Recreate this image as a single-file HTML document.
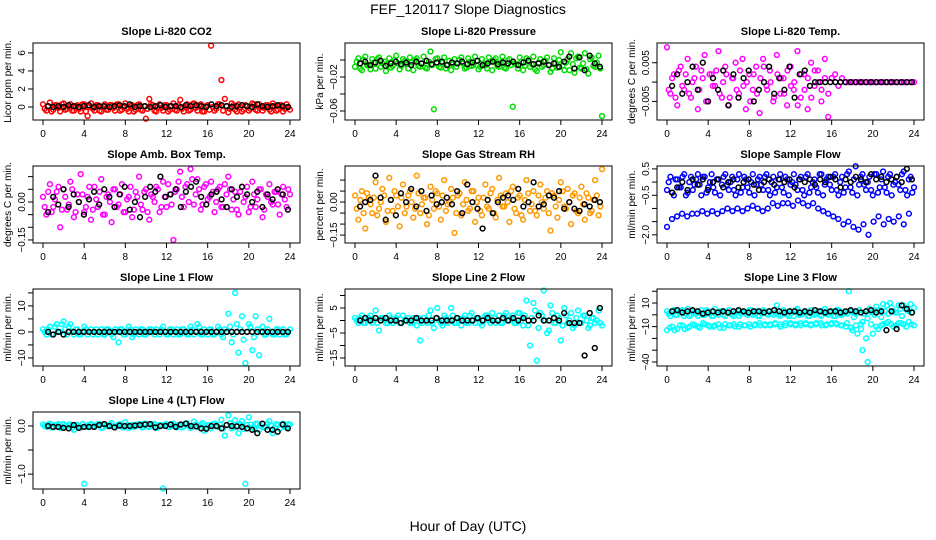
<!DOCTYPE html>
<html><head><meta charset="utf-8"><title>FEF_120117 Slope Diagnostics</title>
<style>
html,body{margin:0;padding:0;background:#fff;}
svg{display:block;font-family:"Liberation Sans",Arial,sans-serif;}
</style></head>
<body>
<svg id="chart" width="936" height="540" viewBox="0 0 936 540">
<text x="468" y="14" font-size="14" text-anchor="middle">FEF_120117  Slope Diagnostics</text>
<text x="468" y="531" font-size="14" text-anchor="middle">Hour of Day (UTC)</text>
</svg>
<script>
// ---- data (hour of day 0..24; values evenly spaced between x0 and x1) ----
const xTicks=[0,4,8,12,16,20,24];
const co2Red=[0.3,-0.4,0.5,-0.3,0.2,-0.5,0.4,-0.2,0.3,-0.4,0.2,-0.5,0.3,-1.0,0.4,-0.4,0.2,-0.5,0.3,-0.3,0.2,-0.4,0.3,-0.3,0.4,-0.5,0.2,-0.3,0.3,-0.4,-1.3,0.9,0.2,-0.5,0.3,-0.4,0.2,-0.3,0.4,-0.4,0.8,-0.5,0.3,-0.3,0.4,-0.4,0.3,-0.5,0.2,6.8,-0.4,0.3,3.0,0.9,-0.6,0.4,-0.3,0.3,-0.5,0.2,-0.4,0.4,-0.3,0.3,-0.4,0.2,-0.3,0.4,-0.4,0.2,-0.5,0.3,-0.3];
const co2Red2=[-0.2,0.1,-0.5,0.2,-0.1,0.3,-0.3,0.0,-0.4,0.1,-0.2,0.3,-0.5,0.0,-0.2,0.2,-0.4,0.1,-0.3,0.2,-0.1,0.3,-0.4,0.0,-0.2,0.1,-0.5,0.2,-0.3,0.1,-0.2,0.3,-0.4,0.0,-0.1,0.2,-0.5,0.1,-0.3,0.2,-0.2,0.0,-0.4,0.3,-0.1,0.2,-0.5,0.1,-0.3,0.0,-0.2,0.3,-0.4,0.1,-0.2,0.2,-0.5,0.0,-0.3,0.1,-0.2,0.3,-0.4,0.0,-0.1,0.2,-0.5,0.1,-0.3,0.2,-0.2,0.0];
const co2Black=[0.1,0.0,0.1,0.0,0.2,0.1,0.0,0.1,0.2,0.0,0.1,0.1,0.0,0.1,0.2,0.1,0.3,0.0,0.1,0.1,0.0,0.1,0.2,0.0,0.1,0.1,0.0,0.2,0.1,0.2,0.1,0.0,0.3,0.1,0.2,0.1,0.0,0.1,0.2,0.1,0.0,0.3,0.1,0.0,0.1,0.2,0.1,0.0];
const presGreen=[-0.008,0.002,-0.012,0.004,-0.006,0.001,-0.010,0.003,-0.004,-0.013,0.002,-0.007,0.005,-0.011,0.001,-0.005,0.003,-0.012,0.002,-0.008,0.004,-0.010,0.010,-0.058,0.002,-0.009,0.003,-0.006,-0.012,0.001,-0.004,0.003,-0.010,0.002,-0.007,0.004,-0.011,0.001,-0.006,0.003,-0.012,0.002,-0.008,0.004,-0.010,0.001,-0.055,-0.005,0.003,-0.012,0.002,-0.008,0.004,-0.013,0.001,-0.006,0.003,-0.014,0.002,-0.009,0.009,-0.012,0.001,0.008,-0.015,0.004,-0.010,0.008,-0.016,0.003,-0.008,0.005,-0.066];
const presGreen2=[-0.002,-0.010,0.000,-0.006,-0.011,-0.003,0.001,-0.008,-0.002,-0.005,-0.009,0.000,-0.004,-0.007,-0.001,-0.010,-0.003,0.000,-0.007,-0.004,-0.009,-0.002,-0.006,0.001,-0.008,-0.003,-0.010,-0.001,-0.005,-0.008,0.000,-0.004,-0.009,-0.002,-0.006,-0.001,-0.008,-0.004,-0.010,-0.002,0.000,-0.007,-0.003,-0.009,-0.001,-0.006,-0.004,-0.010,-0.002,-0.007,0.000,-0.005,-0.011,-0.003,-0.008,-0.001,-0.006,-0.010,-0.004,0.000,-0.007,-0.003,-0.012,-0.005,0.002,-0.009,-0.004,-0.011,0.001,-0.007,-0.003,-0.010];
const presBlack=[-0.004,-0.002,-0.006,-0.003,-0.001,-0.007,-0.004,-0.002,-0.005,-0.003,-0.006,-0.002,-0.004,-0.001,-0.005,-0.003,-0.002,-0.006,-0.003,-0.004,-0.002,-0.005,-0.003,-0.001,-0.006,-0.004,-0.002,-0.005,-0.003,-0.004,-0.002,-0.006,-0.003,-0.001,-0.005,-0.004,-0.002,-0.006,-0.004,-0.008,-0.002,0.004,-0.010,0.003,-0.012,0.005,-0.004,-0.008];
const tempMag=[0.009,-0.003,0.002,-0.006,0.004,-0.002,0.006,-0.004,0.001,-0.007,0.003,0.007,-0.005,0.002,-0.001,0.008,-0.004,0.004,-0.006,0.001,0.005,-0.003,0.006,-0.007,0.002,-0.002,0.004,-0.008,0.006,-0.001,0.003,-0.005,0.007,-0.003,0.001,-0.006,0.004,-0.002,0.008,-0.004,0.002,-0.007,0.005,-0.001,0.003,-0.005,0.006,-0.009,0.001,0.002,-0.001,0.001,0,0,0,0,0,0,0,0,0,0,0,0,0,0,0,0,0,0,0,0,0];
const tempMag2=[-0.002,0.001,-0.004,0.003,-0.001,0.002,-0.003,0.000,0.004,-0.002,0.001,-0.005,0.002,-0.001,0.003,-0.003,0.000,0.002,-0.004,0.001,-0.002,0.003,-0.001,0.000,-0.005,0.002,-0.003,0.001,0.004,-0.002,0.000,-0.004,0.002,0.001,-0.003,0.003,-0.001,0.000,-0.006,0.002,-0.002,0.001,-0.004,0.003,0.000,-0.002,0.001,-0.003,0.001];
const tempBlack=[-0.001,0.002,-0.003,0.000,0.004,-0.002,0.005,-0.005,0.001,-0.002,0.003,-0.006,0.002,-0.004,0.001,0.003,-0.005,-0.002,0.000,0.004,-0.003,0.001,-0.002,0.004,-0.004,0.002,0.003,-0.001,0.000,0,0,0,0,0,0,0,0,0,0,0,0,0,0,0,0,0,0,0];
const ambMag=[0.02,-0.05,0.07,-0.02,0.04,-0.10,0.05,-0.03,0.08,-0.06,0.03,0.11,-0.04,0.02,-0.07,0.06,-0.02,0.09,-0.05,0.03,-0.08,0.05,-0.01,0.07,-0.04,0.02,-0.06,0.04,0.10,-0.03,0.05,-0.07,0.02,0.06,-0.04,0.08,-0.02,0.03,-0.15,0.05,0.12,-0.02,0.07,0.13,-0.01,0.09,-0.03,0.06,0.01,0.08,-0.04,0.05,-0.02,0.07,0.10,-0.03,0.04,-0.05,0.06,0.02,-0.04,0.08,-0.02,0.05,-0.06,0.03,0.07,-0.01,0.04,-0.05,0.06,-0.02,0.03];
const ambMag2=[-0.02,0.04,-0.04,0.01,0.06,-0.03,0.02,-0.01,0.05,-0.04,0.00,0.03,-0.02,0.06,-0.03,0.01,0.04,-0.05,0.02,0.00,0.05,-0.02,0.03,-0.04,0.01,0.06,-0.03,0.02,-0.01,0.04,-0.04,0.03,0.00,0.05,-0.02,0.02,0.07,-0.01,0.04,0.08,0.02,0.06,0.00,0.09,0.03,0.05,-0.01,0.07,0.02,0.04,0.00,0.06,-0.02,0.03,0.05,0.01,-0.03,0.04,0.00,0.06,-0.02,0.03,0.01,0.05,-0.03,0.02,0.00,0.04,-0.01,0.03,0.01,0.05];
const ambBlack=[-0.04,0.02,-0.01,0.05,-0.02,0.03,0.00,-0.05,0.01,0.04,-0.01,0.05,0.02,-0.02,0.03,0.06,-0.03,0.00,-0.06,0.02,0.06,0.04,0.10,0.02,0.03,0.05,-0.02,0.04,0.06,0.08,0.02,-0.01,0.03,0.04,0.01,-0.02,0.05,0.02,0.06,0.03,0.00,0.04,-0.02,0.03,0.01,0.05,0.03,-0.03];
const rhOrange=[0.03,-0.08,0.05,-0.12,0.02,-0.05,0.09,-0.03,0.06,-0.09,0.11,-0.04,0.03,-0.11,0.08,-0.02,0.05,-0.07,0.12,-0.05,0.02,-0.10,0.07,-0.03,0.04,-0.08,0.10,-0.01,0.06,-0.14,0.03,-0.06,0.09,-0.04,0.05,-0.09,0.02,-0.06,0.08,-0.03,0.06,-0.07,0.11,-0.02,0.04,-0.09,0.07,-0.05,0.03,-0.08,0.10,-0.04,0.05,-0.06,0.08,-0.03,0.05,-0.13,0.03,-0.07,0.09,-0.02,0.06,-0.10,0.04,-0.05,0.07,-0.08,0.02,-0.04,0.10,-0.06,0.15];
const rhOrange2=[-0.03,0.01,-0.05,0.04,-0.01,0.02,-0.06,0.00,0.03,-0.04,0.01,0.05,-0.02,0.02,-0.05,0.03,0.00,-0.03,0.04,-0.01,0.02,-0.06,0.01,0.05,-0.02,0.03,-0.04,0.00,0.02,-0.05,0.04,-0.01,0.01,-0.03,0.05,0.00,-0.04,0.02,-0.02,0.04,-0.05,0.01,0.03,-0.02,0.00,0.05,-0.03,0.02,-0.06,0.01,0.04,-0.01,-0.04,0.03,0.00,0.02,-0.05,0.04,-0.02,0.01,0.05,-0.03,0.00,0.03,-0.04,0.02,-0.01,0.04,-0.05,0.01,0.03,-0.02];
const rhBlack=[-0.02,0.00,0.01,0.12,0.02,-0.08,0.01,-0.06,0.04,0.00,0.06,-0.02,0.05,-0.04,0.03,-0.01,0.00,0.02,-0.01,0.05,-0.05,0.08,0.00,-0.03,-0.12,0.01,-0.05,0.00,0.02,0.03,0.01,0.06,-0.02,0.00,0.09,-0.02,-0.01,0.03,0.02,0.05,-0.03,0.00,-0.03,-0.04,-0.01,-0.02,0.01,0.00];
const flowBlueHi=[-0.3,0.2,-0.5,0.1,-0.2,0.3,-0.4,0.2,-0.1,0.3,-0.5,0.2,-0.2,0.3,-0.4,0.1,-0.1,0.3,-0.3,0.2,-0.5,0.3,-0.2,0.1,-0.4,0.3,-0.1,0.2,-0.3,0.3,-0.5,0.2,-0.2,0.3,-0.4,0.1,-0.1,0.3,-0.3,0.2,-0.5,0.3,-0.2,0.1,-0.4,0.3,-0.1,0.2,-0.3,0.3,-0.5,0.2,-0.2,0.4,-0.4,0.6,-0.1,0.3,-0.3,0.2,-0.5,0.3,-0.2,0.4,-0.4,0.3,-0.1,0.2,-0.3,0.4,-0.5,0.2,-0.2];
const flowBlueHi2=[0.0,-0.4,0.1,-0.2,0.2,-0.5,0.0,-0.3,0.1,-0.1,0.2,-0.4,0.0,-0.2,0.1,-0.5,0.2,-0.1,0.0,-0.3,0.1,-0.4,0.2,-0.2,0.0,-0.5,0.1,-0.1,0.2,-0.3,0.0,-0.4,0.1,-0.2,0.2,-0.5,0.0,-0.1,0.1,-0.3,0.2,-0.4,0.0,-0.2,0.3,-0.5,0.1,-0.1,0.2,-0.3,0.0,-0.4,0.3,-0.2,0.1,-0.5,0.2,-0.1,0.0,-0.3,0.3,-0.4,0.1,-0.2,0.2,-0.5,0.0,-0.1,0.3,-0.3,0.1,-0.4];
const flowBlueLo=[-1.7,-1.4,-1.3,-1.2,-1.3,-1.2,-1.2,-1.1,-1.2,-1.1,-1.2,-1.1,-1.0,-1.1,-1.0,-1.1,-1.0,-0.9,-1.0,-1.1,-1.0,-0.8,-0.9,-0.8,-0.8,-0.9,-0.7,-0.8,-0.9,-0.8,-1.0,-1.1,-1.2,-1.3,-1.4,-1.6,-1.5,-1.7,-1.8,-1.6,-2.0,-1.5,-1.3,-1.6,-1.4,-1.5,-1.3,-1.6,-1.2];
const flowBlack=[-0.4,-0.2,0.0,-0.3,0.1,-0.1,0.1,-0.3,0.0,0.1,-0.2,0.0,0.1,-0.2,0.0,0.1,-0.1,-0.3,0.0,0.1,-0.1,0.1,0.0,0.1,-0.2,0.1,0.0,0.1,-0.1,0.1,0.0,0.2,0.1,-0.2,0.1,0.0,0.2,0.1,0.0,0.3,0.1,0.2,0.0,0.1,0.2,0.0,0.5,0.1];
const line1Cyan=[1,-1,2,-1,3,0,4,-1,3,-1,1,-1,2,-1,1,0,-1,1,-1,1,-1,1,-4,1,-1,2,-2,1,-1,1,-1,1,0,1,-1,2,-1,1,-1,1,-1,1,-1,2,-1,3,-1,1,-1,1,-1,2,-1,1,7,-4,15,-8,6,-12,3,-7,6,-9,2,-1,5,-1,1,-1,1,-1,1];
const line1Cyan2=[0,1,-1,2,0,3,1,2,0,1,-1,0,1,0,-1,1,0,-1,1,0,-2,0,1,-1,0,1,-1,0,1,-1,0,1,-1,0,1,0,-1,1,0,-1,1,0,-1,1,0,2,-1,0,1,-1,0,1,-2,0,2,-1,3,1,-3,0,2,-2,1,0,-1,1,0,-1,1,0,-1,0];
const line1Black=[0,-1,0,-1,0,0,0,0,0,0,0,0,0,0,0,0,0,0,0,0,0,0,0,0,0,0,0,0,0,0,0,0,0,0,0,0,0,0,0,0,0,0,0,0,0,0,0,0];
const line2Cyan=[1,-1,2,-1,1,-1,4,-4,1,-1,2,-1,1,-1,2,0,-1,1,-2,-8,1,-1,4,-3,5,-1,2,-1,5,-1,1,-2,2,-1,3,-1,1,-2,2,0,3,-1,2,-1,3,0,2,-1,3,-2,8,-10,7,-16,3,12,-5,6,-1,2,-8,5,-1,3,-2,4,-1,2,-3,1,-1,4,-2];
const line2Cyan2=[0,1,-1,0,2,0,-1,1,0,-1,1,0,2,-1,0,1,-1,0,1,-1,0,2,-1,1,0,-2,1,0,2,-1,0,1,-1,2,0,1,-1,0,2,-1,1,0,-1,2,0,1,-1,3,0,2,-2,1,4,-3,2,0,-4,3,-1,1,-2,2,0,-3,1,-1,2,0,-2,1,0,-1];
const line2Black=[0,1,0,1,0,1,0,0,-1,0,0,1,0,0,0,1,0,0,0,1,0,0,0,1,0,1,0,0,1,0,1,0,1,0,0,2,0,0,1,0,3,-1,-1,-1,-14,3,-11,5];
const line3CyanHi=[3,-1,4,0,3,-1,5,0,2,-1,4,0,3,-1,5,0,3,-1,4,0,2,-1,3,1,4,0,3,-1,4,1,3,0,8,-1,4,0,3,-1,5,0,2,-1,4,0,3,-1,5,0,3,-1,4,0,2,20,3,1,4,-6,3,5,2,7,4,9,8,10,3,2,5,8,4,9,6];
const line3CyanHi2=[1,3,0,2,4,1,-1,3,1,2,0,4,1,-1,2,3,0,2,1,-1,3,1,2,0,4,1,-1,2,3,0,1,2,0,3,1,-1,2,4,0,1,3,-1,2,1,0,3,1,2,-1,4,0,2,1,3,-2,2,-8,1,-3,2,0,4,-2,3,1,6,2,8,-1,5,3,2];
const line3CyanLo=[-13,-10,-12,-9,-11,-8,-10,-7,-9,-10,-8,-11,-9,-8,-10,-9,-8,-9,-7,-9,-8,-7,-8,-9,-7,-8,-9,-7,-8,-7,-9,-8,-7,-8,-9,-7,-13,-16,-30,-40,-16,-12,-8,-6,-10,-7,-8,-6,-9];
const line3CyanLo2=[-11,-13,-9,-12,-10,-9,-11,-8,-10,-9,-11,-8,-9,-10,-8,-9,-10,-8,-9,-8,-9,-8,-10,-7,-8,-9,-7,-8,-9,-8,-7,-9,-8,-7,-9,-10,-11,-9,-12,-20,-8,-10,-9,-7,-8,-9,-7,-10,-8];
const line3Black=[3,4,2,3,4,3,1,2,3,2,3,2,3,4,3,2,3,3,2,3,4,3,2,3,3,2,3,2,4,3,2,3,3,2,3,4,3,2,3,4,2,3,-13,3,-12,8,5,2];
const line4Cyan=[0.03,-0.02,0.05,-0.03,0.02,-0.04,0.04,-0.01,0.03,-0.08,0.02,-0.03,-1.2,0.01,0.04,-0.02,0.03,-0.04,0.02,-0.01,0.06,-0.03,0.03,-0.02,0.08,-0.04,0.02,-0.01,0.04,-0.03,0.05,-0.02,0.03,-0.04,0.02,-1.3,0.04,-0.02,0.05,-0.03,0.03,-0.01,0.06,-0.04,0.09,-0.02,0.03,-0.10,0.02,-0.05,0.05,-0.02,0.13,-0.20,0.22,-0.05,0.12,-0.15,0.10,-1.2,0.18,-0.03,0.05,-0.08,0.04,-0.02,0.10,-0.15,0.04,-0.06,0.05,-0.03,0.03];
const line4Cyan2=[0.00,0.03,-0.03,0.02,0.04,-0.02,0.01,0.03,-0.04,0.02,0.00,0.04,-0.02,0.03,-0.01,0.02,0.04,-0.03,0.01,0.03,-0.02,0.00,0.04,-0.03,0.02,0.01,-0.02,0.03,0.00,0.05,-0.01,0.02,0.04,-0.03,0.01,0.03,-0.02,0.04,0.00,0.02,-0.03,0.05,0.01,-0.02,0.03,0.00,0.06,-0.04,0.02,0.04,-0.01,0.03,-0.05,0.02,0.06,-0.03,0.01,0.04,-0.06,0.02,0.03,-0.05,0.04,0.00,-0.03,0.05,0.01,-0.04,0.02,0.03,-0.02,0.04];
const line4Black=[0.0,-0.02,-0.02,-0.04,-0.05,0.02,-0.04,-0.02,-0.02,-0.02,0.02,0.04,0.0,-0.03,0.01,0.0,0.0,0.01,0.02,0.03,0.04,-0.03,0.0,0.0,0.03,-0.02,0.03,0.05,0.0,-0.01,-0.05,-0.06,0.0,0.0,-0.05,0.02,0.0,-0.01,-0.02,-0.05,-0.08,-0.15,0.05,-0.08,-0.08,-0.12,0.03,-0.05];

const panels=[
 {name:"co2",title:"Slope Li-820 CO2",ylab:"Licor ppm per min.",col:0,row:0,yMin:-1.44,yMax:7.1,ticks:[0,2,4,6],labels:["0","2","4","6"],series:[[co2Red,"#ff0000",0,24],[co2Red2,"#ff0000",0.17,23.83],[co2Black,"#000",0.5,23.8]]},
 {name:"pressure",title:"Slope Li-820 Pressure",ylab:"kPa per min.",col:1,row:0,yMin:-0.0706,yMax:0.02,ticks:[-0.06,-0.04,-0.02,0],labels:["-0.06","","-0.02",""],series:[[presGreen,"#00dd00",0,24],[presGreen2,"#00dd00",0.17,23.83],[presBlack,"#000",0.5,23.8]]},
 {name:"temp",title:"Slope Li-820 Temp.",ylab:"degrees C per min.",col:2,row:0,yMin:-0.0098,yMax:0.0101,ticks:[-0.005,0,0.005],labels:["-0.005","","0.005"],series:[[tempMag,"#ff00ff",0,24],[tempMag2,"#ff00ff",0.17,16],[tempBlack,"#000",0.5,23.8]]},
 {name:"amb-box-temp",title:"Slope Amb. Box Temp.",ylab:"degrees C per min.",col:0,row:1,yMin:-0.162,yMax:0.142,ticks:[-0.15,-0.10,-0.05,0,0.05,0.10],labels:["-0.15","","","0.00","",""],series:[[ambMag,"#ff00ff",0,24],[ambMag2,"#ff00ff",0.17,23.83],[ambBlack,"#000",0.5,23.8]]},
 {name:"gas-rh",title:"Slope Gas Stream RH",ylab:"percent per min.",col:1,row:1,yMin:-0.186,yMax:0.164,ticks:[-0.15,-0.10,-0.05,0,0.05,0.10],labels:["-0.15","","","0.00","",""],series:[[rhOrange,"#ff9900",0,24],[rhOrange2,"#ff9900",0.17,23.83],[rhBlack,"#000",0.5,23.8]]},
 {name:"sample-flow",title:"Slope Sample Flow",ylab:"ml/min per min.",col:2,row:1,yMin:-2.31,yMax:0.61,ticks:[-2,-1.5,-1,-0.5,0,0.5],labels:["-2.0","","","-0.5","","0.5"],series:[[flowBlueHi,"#0000ff",0,24],[flowBlueHi2,"#0000ff",0.17,23.83],[flowBlueLo,"#0000ff",0,23.5],[flowBlack,"#000",0.5,23.8]]},
 {name:"line1-flow",title:"Slope Line 1 Flow",ylab:"ml/min per min.",col:0,row:2,yMin:-13.1,yMax:16.5,ticks:[-10,-5,0,5,10,15],labels:["-10","","0","","10",""],series:[[line1Cyan,"#00ffff",0,24],[line1Cyan2,"#00ffff",0.17,23.83],[line1Black,"#000",0.5,23.8]]},
 {name:"line2-flow",title:"Slope Line 2 Flow",ylab:"ml/min per min.",col:1,row:2,yMin:-18.2,yMax:12.6,ticks:[-15,-10,-5,0,5,10],labels:["-15","","-5","","5",""],series:[[line2Cyan,"#00ffff",0,24],[line2Cyan2,"#00ffff",0.17,23.83],[line2Black,"#000",0.5,23.8]]},
 {name:"line3-flow",title:"Slope Line 3 Flow",ylab:"ml/min per min.",col:2,row:2,yMin:-43.4,yMax:21.9,ticks:[-40,-30,-20,-10,0,10,20],labels:["-40","","","-10","","10",""],series:[[line3CyanHi,"#00ffff",0,24],[line3CyanHi2,"#00ffff",0.17,23.83],[line3CyanLo,"#00ffff",0,24],[line3CyanLo2,"#00ffff",0.25,23.75],[line3Black,"#000",0.5,23.8]]},
 {name:"line4-flow",title:"Slope Line 4 (LT) Flow",ylab:"ml/min per min.",col:0,row:3,yMin:-1.31,yMax:0.29,ticks:[-1,-0.5,0],labels:["-1.0","","0.0"],series:[[line4Cyan,"#00ffff",0,24],[line4Cyan2,"#00ffff",0.17,23.83],[line4Black,"#000",0.5,23.8]]}
];

const NS="http://www.w3.org/2000/svg";
const svg=document.getElementById("chart");
function mk(tag,attrs,parent){const e=document.createElementNS(NS,tag);for(const k in attrs)e.setAttribute(k,attrs[k]);parent.appendChild(e);return e;}

panels.forEach(p=>{
  const L=33+p.col*312, R=L+267, T=43+p.row*123, B=T+77;
  const xs=v=>43+p.col*312+v*(247/24);
  const ys=v=>B-(v-p.yMin)/(p.yMax-p.yMin)*(B-T);
  const g=mk("g",{},svg);
  
  
  const t=mk("text",{x:(L+R)/2,y:T-8,"font-size":"11","font-weight":"bold","text-anchor":"middle"},g);
  t.textContent=p.title;
  
  
  const yl=mk("text",{x:0,y:0,"font-size":"10","text-anchor":"middle",transform:`translate(${L-22},${(T+B)/2}) rotate(-90)`},g);
  yl.textContent=p.ylab;
  
  
  p.series.forEach(s=>{
    const [d,c,x0,x1]=s;
    d.forEach((v,i)=>{
      const x=x0+(x1-x0)*i/(d.length-1);
      const pt=mk("circle",{cx:xs(x).toFixed(1),cy:ys(v).toFixed(1),r:2.4,fill:"none",stroke:c,"stroke-width":1.5},g);
      
      
    });
  });
  const box=mk("rect",{x:L,y:T,width:R-L,height:B-T,fill:"none",stroke:"#000","stroke-width":1},g);
  
  
  const xa=mk("g",{},g);
  
  
  mk("line",{x1:xs(0),x2:xs(24),y1:B,y2:B,stroke:"#000"},xa);
  xTicks.forEach(v=>{
    mk("line",{x1:xs(v),x2:xs(v),y1:B,y2:B+5,stroke:"#000"},xa);
    const tl=mk("text",{x:xs(v),y:B+17,"font-size":"10","text-anchor":"middle"},xa);
    tl.textContent=String(v);
    
    
  });
  const ya=mk("g",{},g);
  
  
  mk("line",{x1:L,x2:L,y1:ys(p.ticks[0]),y2:ys(p.ticks[p.ticks.length-1]),stroke:"#000"},ya);
  p.ticks.forEach((v,i)=>{
    const y=ys(v);
    mk("line",{x1:L-5,x2:L,y1:y,y2:y,stroke:"#000"},ya);
    if(p.labels[i]){
      const tl=mk("text",{x:0,y:0,"font-size":"10","text-anchor":"middle",transform:`translate(${L-8},${y}) rotate(-90)`},ya);
      tl.textContent=p.labels[i].replace("-","\u2212");
      
      
    }
  });
});
</script>
</body></html>
